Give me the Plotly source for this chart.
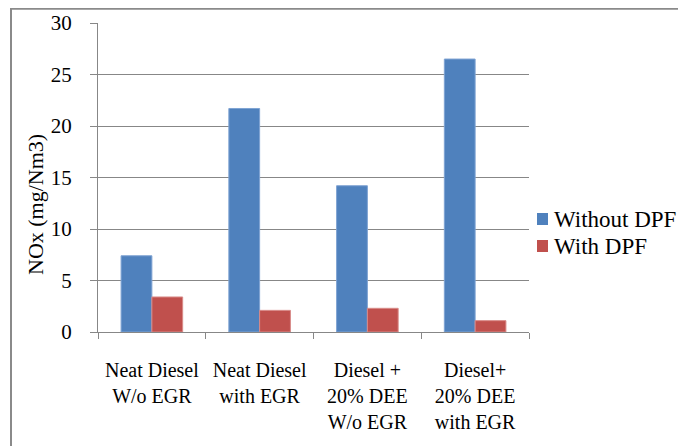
import plotly.graph_objects as go

categories = ["Neat Diesel<br>W/o EGR", "Neat Diesel<br>with EGR",
              "Diesel +<br>20% DEE<br>W/o EGR", "Diesel+<br>20% DEE<br>with EGR"]
without_dpf = [7.4, 21.7, 14.2, 26.5]
with_dpf = [3.4, 2.1, 2.3, 1.1]
series_names = ["Without DPF", "With DPF"]
series_colors = ["#4F81BD", "#C0504D"]
edge_colors = ["#7FA3D3", "#D88A88"]
y_ticks = [0, 5, 10, 15, 20, 25, 30]
y_title = "NOx (mg/Nm3)"

FONT = "Liberation Serif"
GRID = "#878787"

fig = go.Figure()
for name, vals, col, ecol in zip(series_names, [without_dpf, with_dpf], series_colors, edge_colors):
    fig.add_trace(go.Bar(x=categories, y=vals, name=name,
                         marker=dict(color=col, line=dict(color=ecol, width=1))))

OFF = 8  # page body margin
W, H = 686 - OFF, 446 - OFF
L, T = 98 - OFF, 23 - OFF
R, B = W - (529 - OFF), H - (332 - OFF)
pw, ph = W - L - R, H - T - B

def px(x):
    return (x - OFF - L) / pw

def py(y):
    return (H - B - (y - OFF)) / ph

shapes = [
    dict(type="line", xref="paper", yref="paper", x0=px(11), x1=px(700),
         y0=py(8.8), y1=py(8.8), line=dict(color="#8A8A8A", width=2)),
    dict(type="line", xref="paper", yref="paper", x0=px(11), x1=px(11),
         y0=py(7.8), y1=py(460), line=dict(color="#8A8A8A", width=2)),
]
annotations = [
    dict(text=y_title, textangle=-90, xref="paper", yref="paper",
         x=px(35), y=py(205), xanchor="center", yanchor="middle",
         showarrow=False, font=dict(size=22)),
]
# legend (drawn manually so it does not push the plot margins)
for i, (name, col) in enumerate(zip(series_names, series_colors)):
    yc = 219 + 27 * i
    shapes.append(dict(type="rect", xref="paper", yref="paper",
                       x0=px(537), x1=px(548), y0=py(yc - 6), y1=py(yc + 6),
                       fillcolor=col, line=dict(width=0)))
    annotations.append(dict(text=name, xref="paper", yref="paper",
                            x=px(552), y=py(yc), xanchor="left", yanchor="middle",
                            showarrow=False, font=dict(size=23)))

fig.update_layout(
    width=W, height=H,
    margin=dict(l=L, r=R, t=T, b=B, pad=0),
    paper_bgcolor="white", plot_bgcolor="white",
    font=dict(family=FONT, size=20, color="black"),
    barmode="group", bargap=0.4286, bargroupgap=0,
    showlegend=False,
    xaxis=dict(showgrid=False, showline=True, linecolor=GRID, linewidth=1,
               ticks="outside", ticklen=6, tickcolor=GRID, tickson="boundaries",
               tickfont=dict(size=20), ticklabelstandoff=20, tickangle=0,
               automargin=False),
    yaxis=dict(range=[0, 30], tickvals=y_ticks, showgrid=True, gridcolor=GRID,
               gridwidth=1, showline=True, linecolor=GRID, linewidth=1,
               ticks="outside", ticklen=7, tickcolor=GRID, zeroline=False,
               tickfont=dict(size=21), ticklabelstandoff=14, automargin=False),
    shapes=shapes,
    annotations=annotations,
)

fig.write_html("out.html")
